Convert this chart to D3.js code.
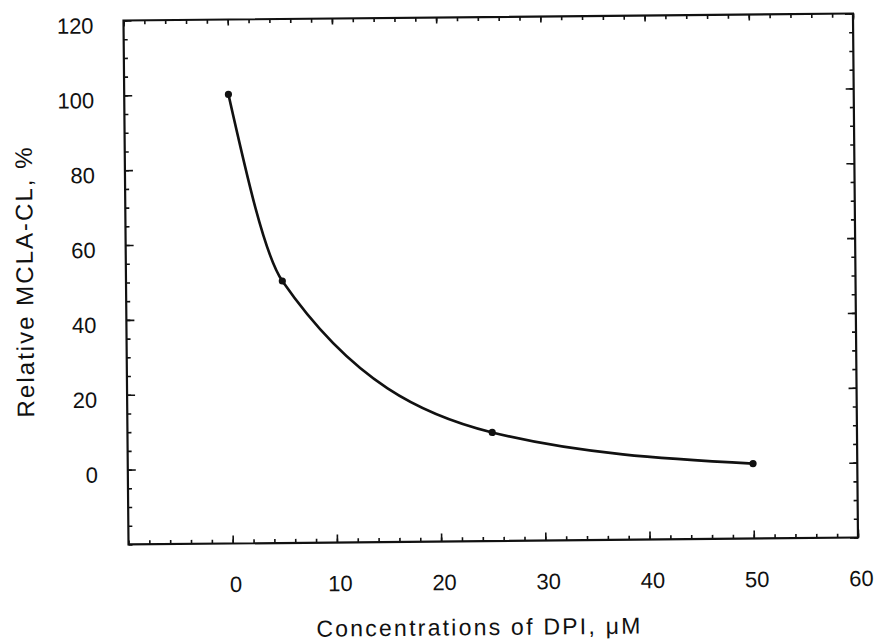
<!DOCTYPE html>
<html>
<head>
<meta charset="utf-8">
<script src="https://cdn.jsdelivr.net/npm/d3@7"></script>
<style>
  body { margin: 0; background: #fff; }
  svg { display: block; }
  text { font-family: "Liberation Sans", Arial, Helvetica, sans-serif; fill: #111; }
</style>
</head>
<body>
<svg id="chart" width="879" height="643"></svg>
<script>
// Relative MCLA chemiluminescence versus DPI concentration
const concentrations = [0, 5, 25, 50];          // µM
const relativeCL = [100, 50, 9, 0];              // %
const xTickValues = [0, 10, 20, 30, 40, 50, 60];
const yTickValues = [0, 20, 40, 60, 80, 100, 120];
const xMinorValues = d3.range(-10, 61, 2);
const yMinorValues = d3.range(-20, 121, 5);
const xTitle = "Concentrations of DPI, μM";
const yTitle = "Relative MCLA-CL, %";

const box = { left: 126, top: 17, right: 855.5, bottom: 541 };

// the whole figure sits slightly tilted on the page
const svg = d3.select("#chart")
  .append("g")
  .attr("transform", "rotate(-0.55, 490, 280)");

const x = d3.scaleLinear().domain([-10, 60]).range([box.left, box.right]);
const y = d3.scaleLinear().domain([-20, 120]).range([box.bottom, box.top]);

const MAJOR = 8, MINOR = 4;

function styleAxis(g) {
  g.select(".domain").remove();
  g.selectAll(".tick line").attr("stroke", "#111").attr("stroke-width", 1.6);
}

// bottom axis: inward ticks with labels
svg.append("g")
  .attr("transform", `translate(0,${box.bottom})`)
  .call(d3.axisBottom(x).tickValues(xMinorValues).tickSize(-MINOR).tickFormat(""))
  .call(styleAxis);
svg.append("g")
  .attr("transform", `translate(0,${box.bottom})`)
  .call(d3.axisBottom(x).tickValues(xTickValues).tickSize(-MAJOR).tickPadding(33).tickFormat(d3.format("d")))
  .call(styleAxis)
  .call(g => g.selectAll("text").attr("font-size", 22).attr("dx", 2.5));

// top axis: inward ticks only
svg.append("g")
  .attr("transform", `translate(0,${box.top})`)
  .call(d3.axisTop(x).tickValues(xMinorValues).tickSize(-MINOR).tickFormat(""))
  .call(styleAxis);
svg.append("g")
  .attr("transform", `translate(0,${box.top})`)
  .call(d3.axisTop(x).tickValues(d3.range(-10, 61, 10)).tickSize(-6).tickFormat(""))
  .call(styleAxis);

// left axis: inward ticks with labels
svg.append("g")
  .attr("transform", `translate(${box.left},0)`)
  .call(d3.axisLeft(y).tickValues(yMinorValues).tickSize(-MINOR).tickFormat(""))
  .call(styleAxis);
svg.append("g")
  .attr("transform", `translate(${box.left},0)`)
  .call(d3.axisLeft(y).tickValues(yTickValues).tickSize(-MAJOR).tickPadding(30).tickFormat(d3.format("d")))
  .call(styleAxis)
  .call(g => g.selectAll("text").attr("font-size", 22).attr("dy", "0.55em"));

// right axis: inward ticks only
svg.append("g")
  .attr("transform", `translate(${box.right},0)`)
  .call(d3.axisRight(y).tickValues(yMinorValues).tickSize(-MINOR).tickFormat(""))
  .call(styleAxis);
svg.append("g")
  .attr("transform", `translate(${box.right},0)`)
  .call(d3.axisRight(y).tickValues(d3.range(-20, 121, 20)).tickSize(-MAJOR).tickFormat(""))
  .call(styleAxis);

// frame
svg.append("rect")
  .attr("x", box.left).attr("y", box.top)
  .attr("width", box.right - box.left).attr("height", box.bottom - box.top)
  .attr("fill", "none").attr("stroke", "#111").attr("stroke-width", 2.2);

// fitted curve through the measurements
const points = concentrations.map((c, i) => ({ c, v: relativeCL[i] }));
const line = d3.line()
  .x(d => x(d.c))
  .y(d => y(d.v))
  .curve(d3.curveMonotoneX);

svg.append("path")
  .datum(points)
  .attr("d", line)
  .attr("fill", "none")
  .attr("stroke", "#111")
  .attr("stroke-width", 2.6);

svg.append("g")
  .selectAll("circle")
  .data(points)
  .join("circle")
  .attr("cx", d => x(d.c))
  .attr("cy", d => y(d.v))
  .attr("r", 3.6)
  .attr("fill", "#111");

// axis titles
svg.append("text")
  .attr("x", 475).attr("y", 635)
  .attr("text-anchor", "middle")
  .attr("font-size", 23)
  .attr("textLength", 324)
  .attr("lengthAdjust", "spacing")
  .text(xTitle);

svg.append("text")
  .attr("transform", "translate(33,278) rotate(-90)")
  .attr("text-anchor", "middle")
  .attr("font-size", 24)
  .attr("textLength", 270)
  .attr("lengthAdjust", "spacing")
  .text(yTitle);
</script>
</body>
</html>
